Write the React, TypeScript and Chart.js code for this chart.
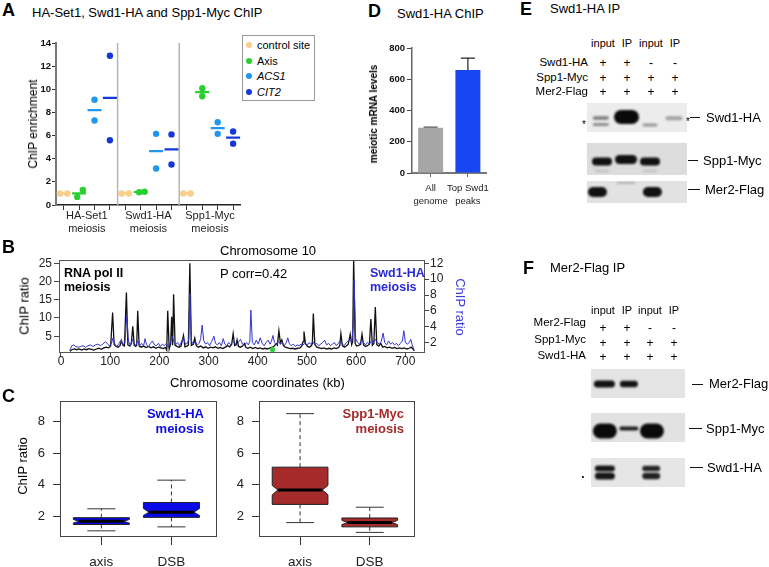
import React, { useEffect, useRef } from 'react';
import { Chart, registerables } from 'chart.js';

Chart.register(...registerables);

const FONT = '"Liberation Sans", Arial, Helvetica, sans-serif';
Chart.defaults.font.family = FONT;
Chart.defaults.color = '#222';

// ================= Panel A data =================
const aGroupLabels = [['HA-Set1', 'meiosis'], ['Swd1-HA', 'meiosis'], ['Spp1-Myc', 'meiosis']];
const aSeriesNames = ['control site', 'Axis', 'ACS1', 'CIT2'];
const aControl = [[1.0, 1.0], [1.0, 1.0], [1.0, 1.0]];
const aAxis = [[0.7, 1.3], [1.1, 1.15], [10.1, 9.4]];
const aACS1 = [[9.1, 7.3], [6.15, 3.15], [7.15, 6.15]];
const aCIT2 = [[12.9, 5.6], [6.1, 3.5], [6.35, 5.3]];
const aYTicks = [0, 2, 4, 6, 8, 10, 12, 14];

// ================= Panel B data (kb, ChIP ratio) =================
const bPolII: [number, number][] = [
  [18, 0.9], [22, 1.3], [27, 1.5], [32, 1.3], [37, 1.5], [42, 1.2], [47, 1.5], [52, 1.3], [57, 1.6], [62, 1.4],
  [67, 1.2], [72, 1.5], [77, 1.7], [82, 1.4], [87, 1.8], [92, 2.0], [97, 1.8], [101, 2.3], [105, 11.5], [108, 2.8],
  [112, 2.2], [116, 2.0], [120, 2.4], [123, 3.8], [126, 2.5], [129, 2.3], [133, 17.0], [136, 2.6], [140, 2.3], [143, 3.0],
  [146, 7.7], [149, 2.5], [152, 2.2], [154, 2.5], [156, 12.0], [159, 2.3], [163, 2.0], [168, 2.3], [173, 1.9], [178, 2.2],
  [183, 1.8], [188, 2.1], [193, 1.7], [198, 2.0], [203, 1.8], [208, 1.6], [212, 1.9], [215, 1.2], [217, 12.0], [220, 1.5],
  [223, 3.0], [225, 10.3], [227, 2.5], [229, 16.5], [232, 2.5], [236, 2.2], [240, 2.0], [244, 2.3], [249, 5.2], [252, 2.1],
  [256, 2.3], [259, 2.6], [262, 25.0], [265, 2.5], [269, 2.8], [272, 4.5], [275, 2.4], [279, 2.0], [284, 2.3], [289, 1.8],
  [294, 2.1], [299, 1.7], [304, 2.0], [309, 1.8], [314, 2.1], [319, 1.7], [324, 1.9], [329, 1.6], [334, 2.0], [339, 2.4],
  [343, 2.1], [347, 2.8], [350, 5.7], [353, 2.5], [356, 2.6], [358, 4.0], [361, 2.2], [365, 2.0], [369, 2.3], [373, 3.0],
  [376, 1.9], [380, 1.7], [385, 2.0], [390, 1.6], [395, 1.9], [400, 1.6], [405, 1.8], [410, 1.5], [415, 1.7], [420, 1.5],
  [425, 1.8], [430, 2.0], [434, 2.4], [438, 3.0], [440, 2.6], [443, 6.5], [446, 3.2], [449, 4.0], [452, 2.5], [456, 2.0],
  [461, 1.8], [466, 1.6], [471, 1.7], [476, 1.5], [481, 1.7], [486, 1.8], [490, 2.4], [492, 3.5], [494, 6.3], [497, 3.0],
  [501, 2.2], [505, 2.0], [509, 2.4], [511, 3.0], [513, 11.2], [516, 2.8], [520, 2.0], [525, 1.8], [530, 1.6], [535, 1.8],
  [540, 1.5], [545, 1.7], [550, 1.5], [555, 1.8], [560, 1.6], [565, 2.0], [567, 2.6], [569, 5.7], [572, 2.4], [576, 2.0],
  [580, 2.3], [584, 2.8], [588, 5.5], [591, 2.7], [593, 3.5], [595, 26.5], [598, 3.0], [601, 2.3], [605, 2.5], [609, 2.8],
  [612, 5.5], [615, 2.6], [619, 2.2], [623, 2.4], [627, 2.8], [630, 9.7], [633, 2.5], [636, 3.0], [639, 13.0], [642, 2.7],
  [646, 2.3], [650, 3.0], [654, 2.0], [658, 2.2], [663, 1.8], [668, 2.0], [673, 1.7], [678, 1.9], [683, 1.6], [688, 1.8],
  [693, 1.6], [698, 1.8], [703, 1.5], [708, 1.7], [712, 2.0], [715, 1.6], [718, 1.0],
];
const bSwd1: [number, number][] = [
  [18, 1.0], [22, 1.6], [26, 1.7], [30, 1.5], [35, 1.4], [40, 1.5], [45, 1.6], [50, 1.4], [55, 1.6], [60, 1.7],
  [65, 1.5], [70, 1.7], [75, 1.8], [80, 1.6], [85, 1.8], [90, 2.1], [94, 1.9], [98, 1.6], [102, 1.8], [106, 2.6],
  [110, 1.7], [114, 1.5], [118, 1.9], [122, 2.3], [126, 1.7], [130, 2.0], [134, 5.4], [137, 2.2], [141, 1.6], [145, 2.4],
  [148, 1.8], [152, 1.7], [156, 2.2], [160, 1.6], [164, 1.9], [168, 1.6], [171, 2.5], [174, 1.7], [178, 1.5], [182, 1.9],
  [186, 2.2], [190, 1.7], [194, 1.6], [198, 1.9], [202, 1.5], [206, 1.8], [210, 1.6], [214, 1.9], [218, 1.4], [222, 2.0],
  [226, 2.8], [229, 2.2], [233, 1.7], [237, 2.0], [241, 1.6], [245, 2.1], [249, 2.6], [253, 1.8], [257, 1.9], [260, 2.4],
  [262, 8.2], [265, 2.2], [269, 1.8], [273, 2.1], [277, 1.7], [281, 1.9], [284, 2.5], [287, 4.2], [290, 2.3], [294, 1.8],
  [298, 2.0], [302, 1.6], [306, 2.1], [311, 2.8], [314, 1.9], [318, 1.7], [322, 2.0], [326, 1.6], [330, 2.5], [333, 1.8],
  [337, 1.6], [341, 2.0], [345, 1.7], [349, 2.2], [353, 1.9], [357, 1.7], [361, 2.1], [365, 2.4], [369, 1.8], [373, 1.6],
  [377, 2.0], [381, 1.7], [384, 2.2], [386, 6.1], [389, 2.0], [393, 1.7], [397, 2.3], [401, 1.8], [405, 2.6], [409, 1.9],
  [413, 1.6], [417, 2.0], [421, 2.3], [425, 1.8], [428, 2.2], [431, 2.9], [434, 2.0], [438, 1.7], [442, 2.2], [446, 1.8],
  [450, 2.0], [454, 1.6], [458, 2.0], [461, 2.6], [464, 1.9], [468, 1.6], [472, 1.8], [476, 1.5], [480, 1.7], [484, 1.6],
  [488, 1.8], [492, 1.7], [496, 1.9], [500, 1.6], [504, 2.0], [508, 1.8], [512, 2.1], [516, 1.7], [520, 1.9], [524, 1.6],
  [528, 1.8], [532, 2.0], [536, 2.3], [540, 1.7], [544, 1.9], [548, 1.6], [552, 1.8], [556, 2.0], [560, 1.6], [564, 1.9],
  [568, 2.3], [572, 1.8], [576, 1.6], [580, 2.0], [584, 2.2], [588, 2.4], [591, 2.0], [594, 4.0], [596, 9.9], [599, 2.5],
  [603, 2.0], [607, 1.8], [611, 2.3], [615, 2.0], [619, 1.7], [623, 2.0], [627, 1.8], [631, 2.2], [635, 1.9], [639, 2.4],
  [643, 2.0], [647, 1.8], [651, 2.1], [655, 3.2], [658, 2.0], [662, 1.7], [666, 2.2], [670, 1.8], [674, 2.0], [678, 1.7],
  [682, 1.9], [686, 1.6], [690, 1.9], [694, 2.2], [697, 3.5], [700, 2.0], [704, 1.8], [708, 2.0], [711, 2.4], [714, 1.7],
  [718, 1.0],
];
const bMarker: [number, number][] = [[430, 1.34]];
const bXTicks = [0, 100, 200, 300, 400, 500, 600, 700];
const bLeftTicks = [5, 10, 15, 20, 25];
const bRightTicks = [2, 4, 6, 8, 10, 12];

// ================= Panel C data (min, q1, median, q3, max) =================
const cCategories = ['axis', 'DSB'];
const cSwd1Stats = [[1.09, 1.49, 1.69, 1.92, 2.48], [1.34, 1.94, 2.27, 2.88, 4.29]];
const cSwd1Notch = [[1.58, 1.81], [2.06, 2.5]];
const cSpp1Stats = [[1.61, 2.76, 3.67, 5.11, 8.49], [0.99, 1.34, 1.61, 1.9, 2.58]];
const cSpp1Notch = [[3.36, 3.96], [1.48, 1.75]];
const cYTicks = [2, 4, 6, 8];

// ================= Panel D data =================
const dCategories = [['All', 'genome'], ['Top Swd1', 'peaks']];
const dValues = [290, 660];
const dErrors = [3, 75];
const dYTicks = [0, 200, 400, 600, 800];

// ================= Panels E / F blot band intensities (lanes 1-4) =================
const blotLanes = [1, 2, 3, 4];
const eSwd1Main = [0.5, 1.0, 0, 0.32];
const eSwd1Star = [0.42, 0, 0.38, 0];
const eSpp1Main = [0.97, 0.97, 0.97, 0];
const eSpp1Faint = [0.14, 0, 0.12, 0];
const eMer2Main = [0.97, 0, 0.97, 0];
const eMer2Faint = [0, 0.22, 0, 0];
const fMer2Main = [0.97, 0.95, 0, 0];
const fSpp1Main = [1.0, 0, 1.0, 0];
const fSpp1Thin = [0, 0.9, 0, 0];
const fSwd1Upper = [0.95, 0, 0.88, 0];
const fSwd1Lower = [0.95, 0, 0.9, 0];

// ================= layout / style (not data) =================
const aColors = ['#F7CE8A', '#27CF2F', '#1F97EF', '#1638D8'];
const aJitter = [
  [[-0.23, 0.23], [-0.23, 0.23], [-0.23, 0.23]],
  [[-0.12, 0.24], [-0.1, 0.25], [0, 0]],
  [[0, 0], [0, 0], [0, 0]],
  [[0, 0], [0, 0], [0, 0]],
];
const aSeparators = [3.5, 7.5];
const aGroupCenters = [1.5, 5.5, 9.5];

const blotStrips = [
  { lanes: [0.375, 4.54], rows: [103, 132], bg: '#ececec' },
  { lanes: [0.375, 4.54], rows: [143, 175], bg: '#dddddd' },
  { lanes: [0.375, 4.54], rows: [181, 203], bg: '#e2e2e2' },
  { lanes: [0.54, 4.46], rows: [369, 398], bg: '#e4e4e4' },
  { lanes: [0.54, 4.46], rows: [413, 442], bg: '#e2e2e2' },
  { lanes: [0.54, 4.46], rows: [458, 487], bg: '#e6e6e6' },
];
const blotBands = [
  { vals: eSwd1Main, y: 117.5, dx: [-0.05, 0.02, 0, 0], dy: [0.5, -0.5, 0, 0.8], w: [16, 25, 0, 17], h: [3.5, 14, 0, 4] },
  { vals: eSwd1Star, y: 124.5, dx: [-0.05, 0, 0, 0], dy: [0, 0, 0.5, 0], w: [16, 0, 15, 0], h: [3, 0, 3, 0] },
  { vals: eSpp1Main, y: 161.5, dx: [0, 0, 0, 0], dy: [0, -2, 0, 0], w: [20, 22, 20, 0], h: [8, 9, 8, 0] },
  { vals: eSpp1Faint, y: 171, dx: [0, 0, 0, 0], dy: [0, 0, 0, 0], w: [14, 0, 14, 0], h: [2.5, 0, 2.5, 0] },
  { vals: eMer2Main, y: 192, dx: [-0.19, 0, 0.1, 0], dy: [0, 0, 0, 0], w: [19, 0, 19, 0], h: [10, 0, 10, 0] },
  { vals: eMer2Faint, y: 183, dx: [0, 0, 0, 0], dy: [0, 0, 0, 0], w: [0, 19, 0, 0], h: [0, 2, 0, 0] },
  { vals: fMer2Main, y: 384, dx: [0.1, 0.12, 0, 0], dy: [0, 0, 0, 0], w: [21, 18, 0, 0], h: [7, 6.5, 0, 0] },
  { vals: fSpp1Main, y: 431, dx: [0.12, 0, 0.08, 0], dy: [0, 0, 0, 0], w: [24, 0, 24, 0], h: [15, 0, 15, 0] },
  { vals: fSpp1Thin, y: 428.5, dx: [0, 0.12, 0, 0], dy: [0, 0, 0, 0], w: [0, 19, 0, 0], h: [0, 4, 0, 0] },
  { vals: fSwd1Upper, y: 468.5, dx: [0.12, 0, 0.05, 0], dy: [0, 0, 0, 0], w: [20, 0, 18, 0], h: [6, 0, 5.5, 0] },
  { vals: fSwd1Lower, y: 476, dx: [0.12, 0, 0.05, 0], dy: [0, 0, 0, 0], w: [20, 0, 18, 0], h: [7, 0, 6.5, 0] },
];

const noPlugins = { legend: { display: false }, tooltip: { enabled: false } };
const setTicks = (vals: number[]) => (s: any) => { s.ticks = vals.map((v) => ({ value: v })); };

const framePlugin = (color = '#444') => ({
  id: 'frame',
  afterDraw(chart: any) {
    const { ctx, chartArea: a } = chart;
    ctx.save();
    ctx.strokeStyle = color;
    ctx.lineWidth = 1;
    ctx.strokeRect(Math.round(a.left) + 0.5, Math.round(a.top) + 0.5, Math.round(a.right - a.left) - 1, Math.round(a.bottom - a.top) - 1);
    ctx.restore();
  },
});

// ---------------- configs ----------------
function configA(): any {
  const series = [aControl, aAxis, aACS1, aCIT2];
  const datasets: any[] = [];
  series.forEach((vals, si) => {
    datasets.push({
      type: 'scatter', label: aSeriesNames[si] + ' mean',
      data: vals.map((pair, g) => ({ x: g * 4 + si, y: (pair[0] + pair[1]) / 2 })),
      pointStyle: 'line', pointRadius: 7, borderColor: aColors[si], borderWidth: 2.2,
    });
    datasets.push({
      type: 'scatter', label: aSeriesNames[si],
      data: vals.flatMap((pair, g) => pair.map((v, r) => ({ x: g * 4 + si + aJitter[si][g][r], y: v }))),
      backgroundColor: aColors[si], borderColor: aColors[si], borderWidth: 0, pointRadius: 3.2,
    });
  });
  const cols = Array.from({ length: 12 }, (_, i) => i);
  return {
    type: 'scatter',
    data: { datasets },
    options: {
      responsive: false, animation: false,
      layout: { padding: { top: 15, right: 4, left: 0, bottom: 0 } },
      plugins: noPlugins,
      scales: {
        x: {
          type: 'linear', min: -0.5, max: 11.5, afterBuildTicks: setTicks(cols),
          ticks: { display: false },
          grid: { drawOnChartArea: false, drawTicks: true, tickLength: 5, color: '#333' },
          border: { color: '#222', width: 1.5 },
          afterFit: (s: any) => { s.height = 4; },
        },
        x2: {
          type: 'linear', position: 'bottom', min: -0.5, max: 11.5, afterBuildTicks: setTicks(aGroupCenters),
          ticks: { callback: (_v: any, i: number) => aGroupLabels[i], font: { size: 11 }, color: '#222', padding: 0, maxRotation: 0, autoSkip: false },
          grid: { display: false, drawTicks: false },
          border: { display: false },
          afterFit: (s: any) => { s.height = 31; },
        },
        y: {
          min: 0, max: 14, afterBuildTicks: setTicks(aYTicks),
          ticks: { font: { size: 9.5, weight: 'bold' }, color: '#111', padding: 1 },
          grid: { drawOnChartArea: false, tickLength: 4, color: '#333' },
          border: { color: '#777', width: 2 },
          afterFit: (s: any) => { s.width = 56; },
        },
      },
    },
    plugins: [{
      id: 'separators',
      beforeDatasetsDraw(chart: any) {
        const { ctx, chartArea, scales: { x } } = chart;
        ctx.save();
        ctx.strokeStyle = '#b4b4b4';
        ctx.lineWidth = 1.5;
        aSeparators.forEach((v) => {
          const px = x.getPixelForValue(v);
          ctx.beginPath(); ctx.moveTo(px, chartArea.top); ctx.lineTo(px, chartArea.bottom); ctx.stroke();
        });
        ctx.restore();
      },
    }],
  };
}

function configB(): any {
  return {
    type: 'line',
    data: {
      datasets: [
        { label: 'Swd1-HA meiosis', data: bSwd1.map(([x, y]) => ({ x, y })), yAxisID: 'y1', borderColor: '#3434cc', borderWidth: 1, pointRadius: 0, tension: 0, order: 1 },
        { label: 'RNA pol II meiosis', data: bPolII.map(([x, y]) => ({ x, y })), yAxisID: 'y', borderColor: '#111', borderWidth: 1.3, pointRadius: 0, tension: 0, order: 2 },
        { label: 'axis site', type: 'scatter', data: bMarker.map(([x, y]) => ({ x, y })), yAxisID: 'y', pointRadius: 2.6, backgroundColor: '#2fd23a', borderWidth: 0, order: 0 },
      ],
    },
    options: {
      responsive: false, animation: false,
      layout: { padding: { top: 15, right: 0, left: 0, bottom: 0 } },
      plugins: noPlugins,
      scales: {
        x: {
          type: 'linear', min: -4, max: 740, afterBuildTicks: setTicks(bXTicks),
          ticks: { font: { size: 12 }, color: '#222', padding: -3, maxRotation: 0, autoSkip: false },
          grid: { drawOnChartArea: false, tickLength: 4, color: '#444' },
          border: { display: false },
          afterFit: (s: any) => { s.height = 37; },
        },
        y: {
          type: 'linear', position: 'left', min: 0.4, max: 25.9, afterBuildTicks: setTicks(bLeftTicks),
          ticks: { font: { size: 12 }, color: '#222', padding: 2 },
          grid: { drawOnChartArea: false, tickLength: 5, color: '#444' },
          border: { display: false },
          afterFit: (s: any) => { s.width = 59; },
        },
        y1: {
          type: 'linear', position: 'right', min: 0.68, max: 12.42, afterBuildTicks: setTicks(bRightTicks),
          ticks: { font: { size: 12 }, color: '#222', padding: 1 },
          grid: { drawOnChartArea: false, tickLength: 4, color: '#444' },
          border: { display: false },
          afterFit: (s: any) => { s.width = 45; },
        },
      },
    },
    plugins: [framePlugin('#555')],
  };
}

function boxPlugin(stats: number[][], notches: number[][], fill: string) {
  return {
    id: 'boxes',
    afterDatasetsDraw(chart: any) {
      const { ctx, scales: { x, y } } = chart;
      stats.forEach((s, i) => {
        const pos = i + 1;
        const cx = x.getPixelForValue(pos);
        const hw = x.getPixelForValue(pos + 0.4) - cx;
        const [mn, q1, md, q3, mx] = s.map((v) => y.getPixelForValue(v));
        const nl = y.getPixelForValue(notches[i][0]);
        const nh = y.getPixelForValue(notches[i][1]);
        const f = 0.8;
        ctx.save();
        ctx.strokeStyle = '#333';
        ctx.lineWidth = 1;
        ctx.setLineDash([4, 3]);
        ctx.beginPath();
        ctx.moveTo(cx, q3); ctx.lineTo(cx, mx);
        ctx.moveTo(cx, q1); ctx.lineTo(cx, mn);
        ctx.stroke();
        ctx.setLineDash([]);
        ctx.beginPath();
        ctx.moveTo(cx - hw / 2, mx); ctx.lineTo(cx + hw / 2, mx);
        ctx.moveTo(cx - hw / 2, mn); ctx.lineTo(cx + hw / 2, mn);
        ctx.stroke();
        ctx.beginPath();
        ctx.moveTo(cx - hw, q3); ctx.lineTo(cx + hw, q3); ctx.lineTo(cx + hw, nh);
        ctx.lineTo(cx + hw * f, md); ctx.lineTo(cx + hw, nl); ctx.lineTo(cx + hw, q1);
        ctx.lineTo(cx - hw, q1); ctx.lineTo(cx - hw, nl); ctx.lineTo(cx - hw * f, md);
        ctx.lineTo(cx - hw, nh); ctx.closePath();
        ctx.fillStyle = fill;
        ctx.fill();
        ctx.strokeStyle = '#222';
        ctx.stroke();
        ctx.lineWidth = 3;
        ctx.strokeStyle = '#000';
        ctx.beginPath(); ctx.moveTo(cx - hw * f, md); ctx.lineTo(cx + hw * f, md); ctx.stroke();
        ctx.restore();
      });
    },
  };
}

function configC(stats: number[][], notches: number[][], fill: string, yWidth: number): any {
  return {
    type: 'scatter',
    data: { datasets: [{ label: 'median', data: stats.map((s, i) => ({ x: i + 1, y: s[2] })), pointRadius: 0 }] },
    options: {
      responsive: false, animation: false,
      layout: { padding: { top: 13, right: 5, left: 0, bottom: 0 } },
      plugins: noPlugins,
      scales: {
        x: {
          type: 'linear', min: 0.41, max: 2.65, afterBuildTicks: setTicks([1, 2]),
          ticks: { callback: (_v: any, i: number) => cCategories[i], font: { size: 13.5 }, color: '#222', padding: 9, maxRotation: 0, autoSkip: false },
          grid: { drawOnChartArea: false, tickLength: 8, color: '#333' },
          border: { display: false },
          afterFit: (s: any) => { s.height = 30; },
        },
        y: {
          min: 0.7, max: 9.3, afterBuildTicks: setTicks(cYTicks),
          ticks: { font: { size: 13 }, color: '#222', padding: 8 },
          grid: { drawOnChartArea: false, tickLength: 7, color: '#333' },
          border: { display: false },
          afterFit: (s: any) => { s.width = yWidth; },
        },
      },
    },
    plugins: [boxPlugin(stats, notches, fill), framePlugin('#444')],
  };
}

function configD(): any {
  return {
    type: 'bar',
    data: {
      labels: dCategories,
      datasets: [{ label: 'meiotic mRNA levels', data: dValues, backgroundColor: ['#a6a6a6', '#1746f2'], borderWidth: 0, categoryPercentage: 1, barPercentage: 0.67 }],
    },
    options: {
      responsive: false, animation: false,
      layout: { padding: { top: 18, right: 5, left: 0, bottom: 0 } },
      plugins: noPlugins,
      scales: {
        x: {
          ticks: { font: { size: 9.5, lineHeight: 1.35 }, color: '#222', padding: 5, maxRotation: 0, autoSkip: false },
          grid: { offset: false, drawOnChartArea: false, tickLength: 4, color: '#666' },
          border: { color: '#777', width: 2 },
          afterFit: (s: any) => { s.height = 37; },
        },
        y: {
          min: 0, max: 800, afterBuildTicks: setTicks(dYTicks),
          ticks: { font: { size: 9.5, weight: 'bold' }, color: '#111', padding: 2 },
          grid: { drawOnChartArea: false, tickLength: 5, color: '#444' },
          border: { color: '#666', width: 1.5 },
          afterFit: (s: any) => { s.width = 52; },
        },
      },
    },
    plugins: [{
      id: 'errorbars',
      afterDatasetsDraw(chart: any) {
        const { ctx, scales: { x, y } } = chart;
        ctx.save();
        dValues.forEach((v, i) => {
          const px = x.getPixelForValue(i);
          const y0 = y.getPixelForValue(v);
          const y1 = y.getPixelForValue(v + dErrors[i]);
          ctx.strokeStyle = i === 0 ? '#555' : '#222';
          ctx.lineWidth = 1.2;
          ctx.beginPath();
          ctx.moveTo(px, y0); ctx.lineTo(px, y1);
          ctx.moveTo(px - 7, y1); ctx.lineTo(px + 7, y1);
          ctx.stroke();
        });
        ctx.restore();
      },
    }],
  };
}

function configBlots(): any {
  return {
    type: 'scatter',
    data: { datasets: [] },
    options: {
      responsive: false, animation: false,
      layout: { padding: 0 },
      plugins: noPlugins,
      scales: {
        x: { type: 'linear', display: false, min: -0.125, max: 5.083 },
        y: { type: 'linear', display: false, min: 95, max: 495, reverse: true },
      },
    },
    plugins: [{
      id: 'blots',
      afterDatasetsDraw(chart: any) {
        const { ctx, scales: { x, y } } = chart;
        ctx.save();
        blotStrips.forEach((st) => {
          const l = x.getPixelForValue(st.lanes[0]);
          const r = x.getPixelForValue(st.lanes[1]);
          const t = y.getPixelForValue(st.rows[0]);
          const b = y.getPixelForValue(st.rows[1]);
          ctx.fillStyle = st.bg;
          ctx.fillRect(l, t, r - l, b - t);
        });
        blotBands.forEach((bd) => {
          bd.vals.forEach((v, i) => {
            if (v <= 0) return;
            const cx = x.getPixelForValue(blotLanes[i] + bd.dx[i]);
            const cy = y.getPixelForValue(bd.y + bd.dy[i]);
            const w = bd.w[i];
            const h = bd.h[i];
            ctx.save();
            ctx.filter = 'blur(1.1px)';
            ctx.fillStyle = `rgba(10,10,10,${v})`;
            ctx.beginPath();
            (ctx as any).roundRect(cx - w / 2, cy - h / 2, w, h, Math.min(w, h) / 2);
            ctx.fill();
            ctx.restore();
          });
        });
        ctx.restore();
      },
    }],
  };
}

// ---------------- components ----------------
function ChartCanvas({ x, y, w, h, make }: { x: number; y: number; w: number; h: number; make: () => any }) {
  const ref = useRef<HTMLCanvasElement>(null);
  useEffect(() => {
    const chart = new Chart(ref.current as HTMLCanvasElement, make());
    return () => chart.destroy();
  }, []);
  return <canvas ref={ref} width={w} height={h} style={{ position: 'absolute', left: x, top: y, width: w, height: h }} />;
}

type TP = { x: number; y: number; s?: number; b?: boolean; c?: string; a?: 'left' | 'center' | 'right'; r?: number; i?: boolean; children: React.ReactNode };
function T({ x, y, s = 12, b = false, c = '#000', a = 'left', r = 0, i = false, children }: TP) {
  const tx = a === 'left' ? '0' : a === 'center' ? '-50%' : '-100%';
  return (
    <div style={{
      position: 'absolute', left: x, top: y, transform: `translate(${tx},-50%)${r ? ` rotate(${r}deg)` : ''}`,
      fontSize: s, fontWeight: b ? 'bold' : 'normal', fontStyle: i ? 'italic' : 'normal', color: c,
      whiteSpace: 'nowrap', lineHeight: 1, fontFamily: FONT,
    }}>{children}</div>
  );
}

function Dash({ x1, x2, y }: { x1: number; x2: number; y: number }) {
  return <div style={{ position: 'absolute', left: x1, top: y - 0.5, width: x2 - x1, height: 1, background: '#111' }} />;
}

const eLanesX = [603, 627, 651, 675];
const eHeaders = ['input', 'IP', 'input', 'IP'];
const eRows = [
  { name: 'Swd1-HA', y: 63, signs: ['+', '+', '-', '-'] },
  { name: 'Spp1-Myc', y: 78, signs: ['+', '+', '+', '+'] },
  { name: 'Mer2-Flag', y: 92, signs: ['+', '+', '+', '+'] },
];
const fLanesX = [603, 627, 650, 674];
const fRows = [
  { name: 'Mer2-Flag', y: 323, sy: 328, signs: ['+', '+', '-', '-'] },
  { name: 'Spp1-Myc', y: 340, sy: 343, signs: ['+', '+', '+', '+'] },
  { name: 'Swd1-HA', y: 356, sy: 357, signs: ['+', '+', '+', '+'] },
];

export default function App() {
  return (
    <div style={{ position: 'absolute', left: 0, top: 0, width: 769, height: 567, overflow: 'hidden', background: '#fff', fontFamily: FONT }}>
      {/* Panel A */}
      <ChartCanvas x={0} y={28} w={250} h={212} make={configA} />
      <T x={2} y={10} s={18} b>A</T>
      <T x={32} y={12} s={13}>HA-Set1, Swd1-HA and Spp1-Myc ChIP</T>
      <T x={33} y={124} s={12} a="center" r={-90}>ChIP enrichment</T>
      <div style={{ position: 'absolute', left: 242, top: 35, width: 71, height: 64, border: '1px solid #9a9a9a', background: '#fff' }} />
      {aSeriesNames.map((n, k) => (
        <React.Fragment key={n}>
          <div style={{ position: 'absolute', left: 246, top: 45 + k * 15.7 - 3, width: 6, height: 6, borderRadius: 3, background: aColors[k] }} />
          <T x={257} y={45 + k * 15.7} s={11} i={k >= 2}>{n}</T>
        </React.Fragment>
      ))}

      {/* Panel D */}
      <ChartCanvas x={360} y={30} w={135} h={180} make={configD} />
      <T x={368} y={11} s={18} b>D</T>
      <T x={397} y={13} s={13}>Swd1-HA ChIP</T>
      <T x={374} y={114} s={10} b a="center" r={-90}>meiotic mRNA levels</T>

      {/* Panel B */}
      <ChartCanvas x={0} y={245} w={470} h={145} make={configB} />
      <T x={2} y={247} s={18} b>B</T>
      <T x={220} y={250} s={13}>Chromosome 10</T>
      <T x={64} y={273} s={12.5} b>RNA pol II</T>
      <T x={64} y={287} s={12.5} b>meiosis</T>
      <T x={220} y={273} s={13}>P corr=0.42</T>
      <T x={370} y={273} s={12.5} b c="#2a2ad8">Swd1-HA</T>
      <T x={370} y={287} s={12.5} b c="#2a2ad8">meiosis</T>
      <T x={24} y={306} s={13} a="center" r={-90}>ChIP ratio</T>
      <T x={460} y={307} s={13} a="center" r={90} c="#3b3bdb">ChIP ratio</T>
      <T x={170} y={382} s={13}>Chromosome coordinates (kb)</T>

      {/* Panel C */}
      <ChartCanvas x={0} y={385} w={222} h={182} make={() => configC(cSwd1Stats, cSwd1Notch, '#0a0ae6', 60)} />
      <ChartCanvas x={200} y={385} w={220} h={182} make={() => configC(cSpp1Stats, cSpp1Notch, '#a52a2a', 59)} />
      <T x={2} y={396} s={18} b>C</T>
      <T x={22} y={466} s={13} a="center" r={-90}>ChIP ratio</T>
      <T x={204} y={413} s={13} b a="right" c="#0a0ae6">Swd1-HA</T>
      <T x={204} y={428} s={13} b a="right" c="#0a0ae6">meiosis</T>
      <T x={404} y={413} s={13} b a="right" c="#a52a2a">Spp1-Myc</T>
      <T x={404} y={428} s={13} b a="right" c="#a52a2a">meiosis</T>

      {/* Panels E & F blots */}
      <ChartCanvas x={575} y={95} w={125} h={400} make={configBlots} />

      <T x={520} y={9} s={18} b>E</T>
      <T x={550} y={8} s={13}>Swd1-HA IP</T>
      {eHeaders.map((hd, k) => <T key={'eh' + k} x={eLanesX[k]} y={43} s={11} a="center">{hd}</T>)}
      {eRows.map((r) => (
        <React.Fragment key={'er' + r.name}>
          <T x={588} y={r.y} s={11.5} a="right">{r.name}</T>
          {r.signs.map((sg, k) => <T key={k} x={eLanesX[k]} y={r.y} s={12} a="center">{sg}</T>)}
        </React.Fragment>
      ))}
      <T x={584} y={125} s={10} a="center">*</T>
      <T x={688} y={122} s={10} a="center">*</T>
      <Dash x1={690} x2={700} y={117} />
      <T x={706} y={117} s={13}>Swd1-HA</T>
      <Dash x1={688} x2={698} y={160} />
      <T x={703} y={160} s={13}>Spp1-Myc</T>
      <Dash x1={688} x2={700} y={189} />
      <T x={705} y={189} s={13}>Mer2-Flag</T>

      <T x={523} y={268} s={18} b>F</T>
      <T x={550} y={267} s={13}>Mer2-Flag IP</T>
      {eHeaders.map((hd, k) => <T key={'fh' + k} x={fLanesX[k]} y={310} s={11} a="center">{hd}</T>)}
      {fRows.map((r) => (
        <React.Fragment key={'fr' + r.name}>
          <T x={586} y={r.y} s={11.5} a="right">{r.name}</T>
          {r.signs.map((sg, k) => <T key={k} x={fLanesX[k]} y={r.sy} s={12} a="center">{sg}</T>)}
        </React.Fragment>
      ))}
      <T x={583} y={477} s={8} a="center">•</T>
      <Dash x1={692} x2={703} y={384} />
      <T x={709} y={383} s={13}>Mer2-Flag</T>
      <Dash x1={689} x2={702} y={428} />
      <T x={706} y={428} s={13}>Spp1-Myc</T>
      <Dash x1={690} x2={703} y={467} />
      <T x={707} y={467} s={13}>Swd1-HA</T>
    </div>
  );
}
